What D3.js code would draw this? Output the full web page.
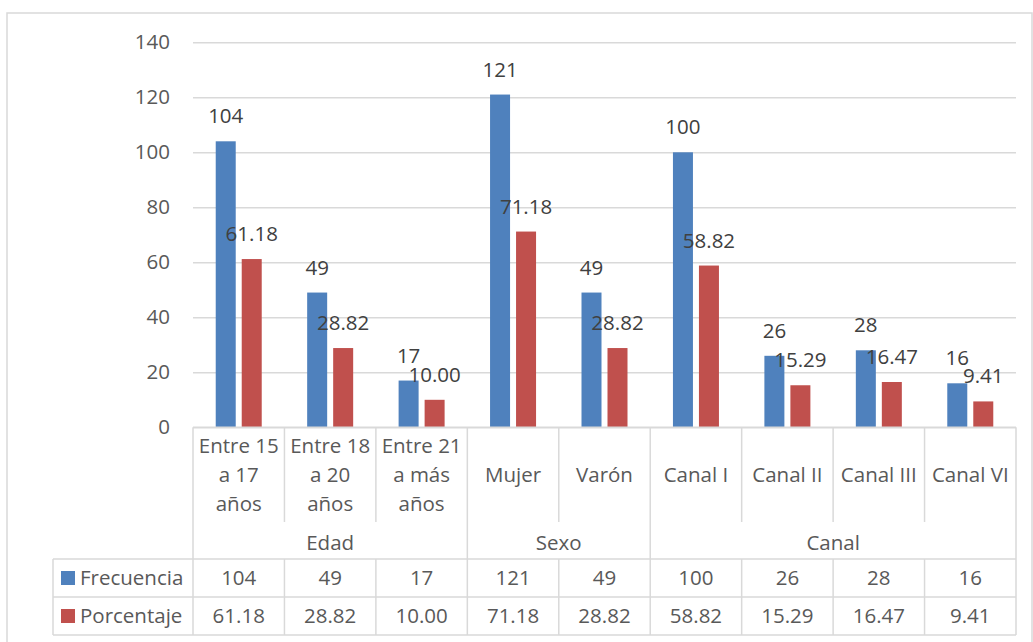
<!DOCTYPE html>
<html><head><meta charset="utf-8">
<script src="https://cdn.jsdelivr.net/npm/d3@7/dist/d3.min.js"></script>
<style>body{margin:0;background:#fff;} svg{display:block;font-family:"Open Sans",sans-serif;}</style>
</head><body>
<svg id="chart" width="1033" height="642"></svg>
<script>
const categories = ["Entre 15\na 17\naños","Entre 18\na 20\naños","Entre 21\na más\naños","Mujer","Varón","Canal I","Canal II","Canal III","Canal VI"];
const groups = ["Edad","Sexo","Canal"];
const groupSizes = [3,2,4];
const seriesNames = ["Frecuencia","Porcentaje"];
const frecuencia = [104,49,17,121,49,100,26,28,16];
const porcentaje = [61.18,28.82,10.00,71.18,28.82,58.82,15.29,16.47,9.41];
const porcentajeLabels = ["61.18","28.82","10.00","71.18","28.82","58.82","15.29","16.47","9.41"];
const yTicks = [0,20,40,60,80,100,120,140];
const colors = ["#4F81BD","#C0504D"];

const svg = d3.select("#chart");
const plotLeft = 193, plotRight = 1016, plotTop = 42.3, base = 427.3;
const lineColor = "#d9d9d9";
const txt = "#595959";
const fs = "20.5px";

// outer border
svg.append("rect").attr("x",7).attr("y",13).attr("width",1025).attr("height",700)
  .attr("fill","none").attr("stroke",lineColor).attr("stroke-width",1.5);

const x = d3.scaleBand().domain(d3.range(categories.length)).range([plotLeft,plotRight]).padding(0);
const y = d3.scaleLinear().domain([0,140]).range([base,plotTop]);
const x1 = d3.scaleBand().domain(seriesNames).range([0,46]).paddingInner(0.2308).paddingOuter(0);
const off = (x.bandwidth()-46)/2;

// gridlines + axis
const yAxis = d3.axisLeft(y).tickValues(yTicks).tickSize(-(plotRight-plotLeft)).tickPadding(23).tickFormat(d3.format("d"));
const gy = svg.append("g").attr("transform",`translate(${plotLeft},0)`).call(yAxis);
gy.select(".domain").remove();
gy.selectAll(".tick line").attr("stroke",lineColor).attr("stroke-width",1.5);
gy.selectAll(".tick text").attr("fill",txt).style("font-size",fs).style("font-family","'Open Sans',sans-serif");

// bars
const seriesData = [frecuencia, porcentaje];
const labelData = [frecuencia.map(String), porcentajeLabels];
seriesData.forEach((vals,si)=>{
  const g = svg.append("g");
  g.selectAll("rect").data(vals).join("rect")
    .attr("x",(d,i)=>x(i)+off+x1(seriesNames[si]))
    .attr("width",x1.bandwidth())
    .attr("y",d=>y(d))
    .attr("height",d=>y(0)-y(d))
    .attr("fill",colors[si]);
});
seriesData.forEach((vals,si)=>{
  svg.append("g").selectAll("text").data(vals).join("text")
    .attr("x",(d,i)=>x(i)+off+x1(seriesNames[si])+x1.bandwidth()/2)
    .attr("y",d=>y(d)-18)
    .attr("text-anchor","middle")
    .attr("fill","#404040")
    .style("font-size",fs)
    .text((d,i)=>labelData[si][i]);
});

// table lines
const L = svg.append("g").attr("stroke",lineColor).attr("stroke-width",1.5).attr("fill","none");
const catBottom = 522, grpBottom = 559, row1 = 597, row2 = 635, legLeft = 53;
L.append("line").attr("x1",plotLeft).attr("x2",plotRight).attr("y1",base).attr("y2",base);
L.append("line").attr("x1",legLeft).attr("x2",plotRight).attr("y1",grpBottom).attr("y2",grpBottom);
L.append("line").attr("x1",legLeft).attr("x2",plotRight).attr("y1",row1).attr("y2",row1);
L.append("line").attr("x1",legLeft).attr("x2",plotRight).attr("y1",row2).attr("y2",row2);
L.append("line").attr("x1",legLeft).attr("x2",legLeft).attr("y1",grpBottom).attr("y2",row2);
// group boundaries
const bounds = [0];
groupSizes.forEach(s=>bounds.push(bounds[bounds.length-1]+s));
const xAt = i => i < categories.length ? x(i) : plotRight;
bounds.forEach(b=>{
  L.append("line").attr("x1",xAt(b)).attr("x2",xAt(b)).attr("y1",base).attr("y2",row2);
});
d3.range(1,categories.length).filter(i=>!bounds.includes(i)).forEach(i=>{
  L.append("line").attr("x1",x(i)).attr("x2",x(i)).attr("y1",base).attr("y2",catBottom);
  L.append("line").attr("x1",x(i)).attr("x2",x(i)).attr("y1",grpBottom).attr("y2",row2);
});

// category labels
const lh = 29;
categories.forEach((c,i)=>{
  const lines = c.split("\n");
  const cy = (base+catBottom)/2 - (lines.length-1)*lh/2;
  const t = svg.append("text").attr("text-anchor","middle").attr("fill",txt).style("font-size",fs);
  lines.forEach((ln,k)=>{
    t.append("tspan").attr("x",x(i)+x.bandwidth()/2).attr("y",cy+k*lh).attr("dy","0.35em").text(ln);
  });
});
// group labels
groups.forEach((g,gi)=>{
  const x0 = xAt(bounds[gi]), x2 = xAt(bounds[gi+1]);
  svg.append("text").attr("x",(x0+x2)/2).attr("y",(catBottom+grpBottom)/2+2).attr("dy","0.35em")
    .attr("text-anchor","middle").attr("fill",txt).style("font-size",fs).text(g);
});
// data table rows
const rowsY = [(grpBottom+row1)/2, (row1+row2)/2];
seriesNames.forEach((s,si)=>{
  svg.append("rect").attr("x",61).attr("y",rowsY[si]-7).attr("width",14).attr("height",14).attr("fill",colors[si]);
  svg.append("text").attr("x",80).attr("y",rowsY[si]).attr("dy","0.35em").attr("fill",txt).style("font-size",fs).text(s);
  svg.append("g").selectAll("text").data(labelData[si]).join("text")
    .attr("x",(d,i)=>x(i)+x.bandwidth()/2).attr("y",rowsY[si]).attr("dy","0.35em")
    .attr("text-anchor","middle").attr("fill",txt).style("font-size",fs).text(d=>d);
});
</script>
</body></html>
